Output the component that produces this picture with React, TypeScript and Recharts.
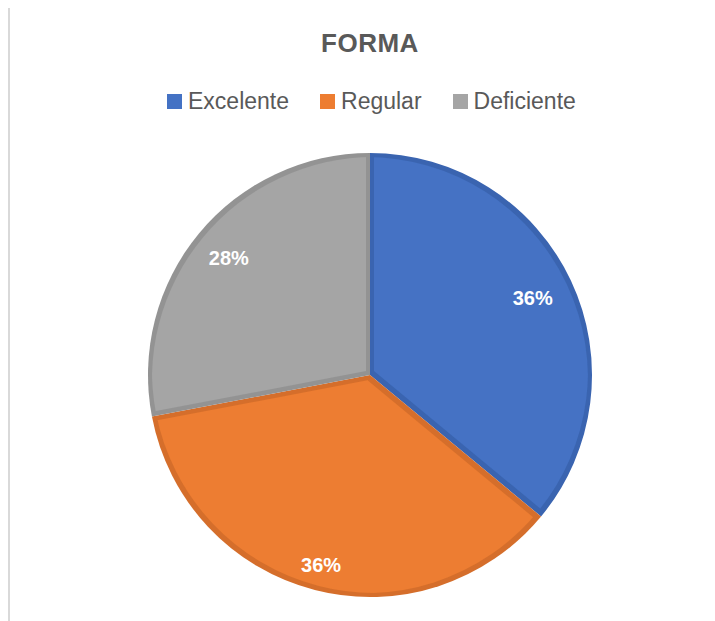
import React from 'react';
import { PieChart, Pie, Cell, Legend } from 'recharts';

const categories = ['Excelente', 'Regular', 'Deficiente'];
const values = [36, 36, 28];

const fillColors = ['#4472C4', '#ED7D31', '#A5A5A5'];
const edgeColors = ['#3A64B0', '#D56E2B', '#939393'];
const labelRadiusFactor = [0.81, 0.885, 0.825];

const data = categories.map((name, i) => ({ name, value: values[i] }));

const RAD = Math.PI / 180;
const FONT = '"Liberation Sans", Arial, sans-serif';

const renderLabel = (props: any) => {
  const { cx, cy, midAngle, outerRadius, percent, index } = props;
  const r = outerRadius * labelRadiusFactor[index];
  const x = cx + r * Math.cos(-midAngle * RAD);
  const y = cy + r * Math.sin(-midAngle * RAD);
  return (
    <text
      x={x}
      y={y}
      fill="#ffffff"
      textAnchor="middle"
      dominantBaseline="central"
      fontFamily={FONT}
      fontWeight="bold"
      fontSize={20}
    >
      {`${Math.round(percent * 100)}%`}
    </text>
  );
};

const renderLegend = (props: any) => {
  const payload = (props.payload || [])
    .filter((p: any) => p.type !== 'none')
    .slice()
    .sort((a: any, b: any) => categories.indexOf(a.value) - categories.indexOf(b.value));
  return (
    <div style={{ display: 'flex', flexDirection: 'row', gap: 31, fontFamily: FONT, fontSize: 23, color: '#595959' }}>
      {payload.map((entry: any, i: number) => (
        <div key={i} style={{ display: 'flex', alignItems: 'center', height: 23 }}>
          <span style={{ display: 'inline-block', width: 15, height: 15, background: entry.color, marginRight: 6 }} />
          <span style={{ lineHeight: '23px', whiteSpace: 'nowrap' }}>{entry.value}</span>
        </div>
      ))}
    </div>
  );
};

export default function App() {
  return (
    <div
      style={{
        position: 'relative',
        width: 707,
        height: 616,
        marginTop: -3,
        borderTop: '2px solid #d9d9d9',
        borderLeft: '2px solid #d9d9d9',
        boxSizing: 'border-box',
      }}
    >
      <svg width={0} height={0} style={{ position: 'absolute' }}>
        <defs>
          <filter id="inset" x="-5%" y="-5%" width="110%" height="110%">
            <feMorphology operator="erode" radius="4" />
          </filter>
        </defs>
      </svg>
      <div
        style={{
          position: 'absolute',
          left: 260,
          top: 23,
          width: 200,
          textAlign: 'center',
          fontFamily: FONT,
          fontWeight: 'bold',
          fontSize: 26,
          lineHeight: '26px',
          letterSpacing: 0.5,
          color: '#595959',
        }}
      >
        FORMA
      </div>
      <div style={{ position: 'absolute', left: -10, top: -7 }}>
        <PieChart width={715} height={621} margin={{ top: 0, right: 0, bottom: 0, left: 0 }}>
          <Pie
            data={data}
            dataKey="value"
            nameKey="name"
            cx={370}
            cy={375}
            outerRadius={222}
            startAngle={90}
            endAngle={-270}
            stroke="none"
            legendType="none"
            isAnimationActive={false}
          >
            {data.map((d, i) => (
              <Cell key={`edge-${i}`} fill={edgeColors[i]} />
            ))}
          </Pie>
          <Pie
            data={data}
            dataKey="value"
            nameKey="name"
            cx={370}
            cy={375}
            outerRadius={222}
            startAngle={90}
            endAngle={-270}
            stroke="none"
            label={renderLabel}
            labelLine={false}
            legendType="square"
            isAnimationActive={false}
          >
            {data.map((d, i) => (
              <Cell key={`fill-${i}`} fill={fillColors[i]} filter="url(#inset)" />
            ))}
          </Pie>
          <Legend
            content={renderLegend}
            itemSorter={null as any}
            wrapperStyle={{ position: 'absolute', left: 167, top: 90, width: 'auto' }}
          />
        </PieChart>
      </div>
    </div>
  );
}
